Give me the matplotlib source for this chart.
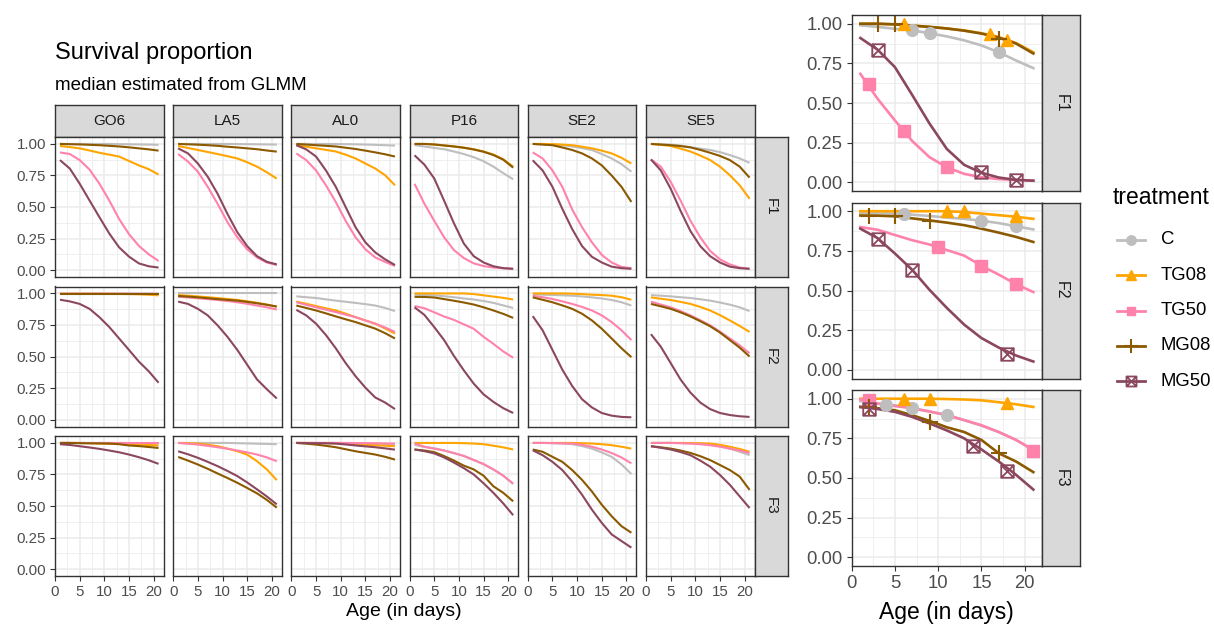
import matplotlib
matplotlib.use("Agg")
import matplotlib.pyplot as plt
from matplotlib.lines import Line2D
from matplotlib.path import Path

plt.rcParams['font.family'] = ['Liberation Sans', 'DejaVu Sans']

# ---- data ----
days = [1, 3, 5, 7, 9, 11, 13, 15, 17, 19, 21]
sites = ["GO6", "LA5", "AL0", "P16", "SE2", "SE5"]
gens = ["F1", "F2", "F3"]
treatments = ["C", "TG08", "TG50", "MG08", "MG50"]

go6_f1 = {
    "C":    [1.0, 1.0, 1.0, 1.0, 1.0, 1.0, 0.998, 0.997, 0.996, 0.995, 0.993],
    "TG08": [0.984, 0.975, 0.965, 0.948, 0.93, 0.915, 0.9, 0.865, 0.83, 0.80, 0.757],
    "TG50": [0.933, 0.92, 0.872, 0.797, 0.685, 0.552, 0.405, 0.285, 0.192, 0.125, 0.072],
    "MG08": [1.0, 0.998, 0.996, 0.993, 0.99, 0.985, 0.98, 0.973, 0.965, 0.957, 0.947],
    "MG50": [0.872, 0.805, 0.685, 0.552, 0.42, 0.29, 0.18, 0.107, 0.053, 0.03, 0.02],
}
go6_f2 = {
    "C":    [0.998, 0.998, 0.998, 0.998, 0.998, 0.998, 0.998, 0.998, 0.998, 0.998, 0.997],
    "TG08": [0.998, 0.998, 0.998, 0.998, 0.998, 0.997, 0.996, 0.995, 0.993, 0.99, 0.985],
    "TG50": [0.998, 0.998, 0.998, 0.998, 0.998, 0.998, 0.998, 0.998, 0.997, 0.997, 0.996],
    "MG08": [0.995, 0.995, 0.995, 0.995, 0.995, 0.995, 0.995, 0.995, 0.995, 0.995, 0.995],
    "MG50": [0.95, 0.937, 0.917, 0.878, 0.812, 0.734, 0.643, 0.552, 0.46, 0.383, 0.292],
}
go6_f3 = {
    "C":    [1.0, 1.0, 1.0, 1.0, 1.0, 1.0, 1.0, 0.999, 0.999, 0.998, 0.998],
    "TG08": [1.0, 1.0, 1.0, 0.998, 0.996, 0.994, 0.992, 0.99, 0.987, 0.984, 0.98],
    "TG50": [1.0, 1.0, 1.0, 1.0, 1.0, 1.0, 1.0, 1.0, 1.0, 1.0, 1.0],
    "MG08": [1.0, 1.0, 0.998, 0.997, 0.996, 0.995, 0.99, 0.98, 0.975, 0.968, 0.96],
    "MG50": [0.99, 0.984, 0.974, 0.964, 0.953, 0.94, 0.926, 0.908, 0.887, 0.863, 0.834],
}
la5_f1 = {
    "C":    [1.0, 1.0, 1.0, 1.0, 1.0, 1.0, 0.999, 0.998, 0.997, 0.996, 0.995],
    "TG08": [0.984, 0.968, 0.952, 0.936, 0.92, 0.903, 0.885, 0.855, 0.82, 0.775, 0.725],
    "TG50": [0.92, 0.86, 0.78, 0.66, 0.525, 0.38, 0.26, 0.165, 0.10, 0.06, 0.04],
    "MG08": [1.0, 0.997, 0.994, 0.99, 0.985, 0.978, 0.972, 0.965, 0.958, 0.948, 0.939],
    "MG50": [0.965, 0.925, 0.845, 0.74, 0.605, 0.445, 0.30, 0.19, 0.11, 0.065, 0.045],
}
la5_f2 = {
    "C":    [1.0, 1.0, 1.0, 1.0, 1.0, 1.0, 1.0, 1.0, 1.0, 1.0, 1.0],
    "TG08": [0.987, 0.982, 0.976, 0.97, 0.963, 0.956, 0.948, 0.938, 0.926, 0.912, 0.895],
    "TG50": [0.974, 0.968, 0.962, 0.955, 0.948, 0.94, 0.93, 0.918, 0.904, 0.89, 0.872],
    "MG08": [0.98, 0.975, 0.969, 0.962, 0.955, 0.949, 0.943, 0.933, 0.922, 0.91, 0.896],
    "MG50": [0.935, 0.917, 0.878, 0.826, 0.747, 0.656, 0.552, 0.435, 0.318, 0.24, 0.167],
}
la5_f3 = {
    "C":    [1.0, 1.0, 1.0, 1.0, 1.0, 1.0, 0.998, 0.996, 0.994, 0.992, 0.99],
    "TG08": [1.0, 0.998, 0.995, 0.986, 0.974, 0.955, 0.934, 0.908, 0.855, 0.79, 0.705],
    "TG50": [1.0, 0.994, 0.987, 0.977, 0.966, 0.954, 0.94, 0.925, 0.908, 0.885, 0.855],
    "MG08": [0.889, 0.86, 0.829, 0.795, 0.758, 0.722, 0.684, 0.643, 0.60, 0.548, 0.487],
    "MG50": [0.934, 0.91, 0.882, 0.85, 0.816, 0.778, 0.737, 0.687, 0.632, 0.575, 0.513],
}
al0_f1 = {
    "C":    [1.0, 1.0, 1.0, 1.0, 0.999, 0.998, 0.997, 0.995, 0.993, 0.99, 0.987],
    "TG08": [0.99, 0.978, 0.965, 0.953, 0.94, 0.915, 0.885, 0.845, 0.805, 0.752, 0.672],
    "TG50": [0.925, 0.872, 0.79, 0.672, 0.54, 0.39, 0.26, 0.165, 0.10, 0.065, 0.032],
    "MG08": [1.0, 0.995, 0.99, 0.985, 0.98, 0.97, 0.96, 0.947, 0.933, 0.918, 0.90],
    "MG50": [0.99, 0.957, 0.90, 0.79, 0.66, 0.50, 0.34, 0.22, 0.14, 0.085, 0.04],
}
al0_f2 = {
    "C":    [0.977, 0.97, 0.964, 0.953, 0.943, 0.934, 0.925, 0.915, 0.904, 0.885, 0.86],
    "TG08": [0.935, 0.918, 0.9, 0.882, 0.865, 0.84, 0.812, 0.786, 0.76, 0.722, 0.682],
    "TG50": [0.93, 0.91, 0.89, 0.871, 0.852, 0.832, 0.812, 0.786, 0.76, 0.73, 0.695],
    "MG08": [0.904, 0.885, 0.865, 0.842, 0.818, 0.795, 0.773, 0.747, 0.721, 0.685, 0.643],
    "MG50": [0.87, 0.826, 0.76, 0.67, 0.565, 0.448, 0.344, 0.253, 0.175, 0.135, 0.083],
}
al0_f3 = {
    "C":    [1.0, 1.0, 1.0, 1.0, 1.0, 0.999, 0.998, 0.997, 0.995, 0.993, 0.99],
    "TG08": [1.0, 1.0, 0.999, 0.998, 0.996, 0.994, 0.99, 0.986, 0.982, 0.978, 0.974],
    "TG50": [1.0, 1.0, 1.0, 1.0, 1.0, 1.0, 0.999, 0.998, 0.997, 0.996, 0.995],
    "MG08": [1.0, 0.994, 0.987, 0.977, 0.966, 0.95, 0.934, 0.921, 0.908, 0.89, 0.868],
    "MG50": [1.0, 0.999, 0.998, 0.997, 0.995, 0.988, 0.98, 0.973, 0.966, 0.957, 0.947],
}
p16_f1 = {
    "C":    [0.99, 0.98, 0.968, 0.958, 0.94, 0.92, 0.895, 0.863, 0.82, 0.768, 0.72],
    "TG08": [1.0, 1.0, 0.995, 0.988, 0.98, 0.97, 0.958, 0.94, 0.916, 0.878, 0.82],
    "TG50": [0.684, 0.526, 0.39, 0.26, 0.158, 0.095, 0.053, 0.032, 0.02, 0.015, 0.01],
    "MG08": [1.0, 1.0, 0.996, 0.988, 0.98, 0.97, 0.956, 0.938, 0.912, 0.875, 0.812],
    "MG50": [0.91, 0.836, 0.726, 0.55, 0.37, 0.21, 0.11, 0.06, 0.03, 0.015, 0.01],
}
p16_f2 = {
    "C":    [0.99, 0.988, 0.985, 0.978, 0.97, 0.96, 0.952, 0.94, 0.925, 0.905, 0.885],
    "TG08": [1.0, 1.0, 1.0, 1.0, 1.0, 1.0, 0.995, 0.985, 0.975, 0.965, 0.952],
    "TG50": [0.90, 0.883, 0.85, 0.817, 0.79, 0.755, 0.72, 0.656, 0.6, 0.54, 0.49],
    "MG08": [0.973, 0.972, 0.968, 0.955, 0.942, 0.928, 0.912, 0.89, 0.865, 0.838, 0.806],
    "MG50": [0.89, 0.83, 0.733, 0.63, 0.504, 0.39, 0.285, 0.2, 0.14, 0.09, 0.052],
}
p16_f3 = {
    "C":    [0.985, 0.968, 0.958, 0.94, 0.918, 0.898, 0.865, 0.83, 0.79, 0.74, 0.675],
    "TG08": [1.0, 1.0, 1.0, 1.0, 1.0, 0.998, 0.995, 0.99, 0.978, 0.965, 0.948],
    "TG50": [0.996, 0.97, 0.954, 0.94, 0.92, 0.896, 0.865, 0.833, 0.79, 0.74, 0.677],
    "MG08": [0.948, 0.94, 0.927, 0.896, 0.86, 0.82, 0.79, 0.74, 0.656, 0.604, 0.537],
    "MG50": [0.948, 0.935, 0.917, 0.885, 0.844, 0.80, 0.75, 0.68, 0.604, 0.52, 0.427],
}
se2_f1 = {
    "C":    [1.0, 0.998, 0.995, 0.99, 0.98, 0.967, 0.952, 0.92, 0.885, 0.84, 0.78],
    "TG08": [1.0, 1.0, 0.998, 0.995, 0.99, 0.978, 0.965, 0.947, 0.925, 0.89, 0.845],
    "TG50": [0.933, 0.885, 0.79, 0.66, 0.48, 0.34, 0.22, 0.12, 0.06, 0.025, 0.015],
    "MG08": [1.0, 0.995, 0.99, 0.972, 0.952, 0.925, 0.885, 0.83, 0.75, 0.66, 0.54],
    "MG50": [0.87, 0.79, 0.66, 0.485, 0.325, 0.19, 0.105, 0.06, 0.027, 0.015, 0.01],
}
se2_f2 = {
    "C":    [0.995, 0.99, 0.988, 0.985, 0.982, 0.976, 0.969, 0.96, 0.948, 0.93, 0.904],
    "TG08": [1.0, 1.0, 1.0, 1.0, 0.998, 0.995, 0.99, 0.987, 0.982, 0.97, 0.95],
    "TG50": [0.982, 0.97, 0.956, 0.937, 0.917, 0.893, 0.865, 0.826, 0.773, 0.708, 0.63],
    "MG08": [0.969, 0.95, 0.93, 0.905, 0.878, 0.839, 0.786, 0.72, 0.643, 0.565, 0.495],
    "MG50": [0.82, 0.708, 0.552, 0.396, 0.266, 0.161, 0.096, 0.052, 0.031, 0.021, 0.018],
}
se2_f3 = {
    "C":    [1.0, 1.0, 0.998, 0.995, 0.99, 0.975, 0.955, 0.925, 0.89, 0.83, 0.754],
    "TG08": [1.0, 1.0, 1.0, 1.0, 1.0, 0.998, 0.995, 0.99, 0.982, 0.97, 0.955],
    "TG50": [1.0, 1.0, 0.999, 0.997, 0.995, 0.985, 0.97, 0.948, 0.92, 0.885, 0.838],
    "MG08": [0.948, 0.93, 0.89, 0.85, 0.785, 0.707, 0.615, 0.51, 0.419, 0.34, 0.288],
    "MG50": [0.942, 0.903, 0.85, 0.785, 0.694, 0.589, 0.471, 0.366, 0.275, 0.222, 0.17],
}
se5_f1 = {
    "C":    [1.0, 0.998, 0.995, 0.987, 0.973, 0.963, 0.952, 0.935, 0.912, 0.885, 0.85],
    "TG08": [1.0, 0.993, 0.984, 0.963, 0.94, 0.908, 0.872, 0.82, 0.752, 0.672, 0.565],
    "TG50": [0.877, 0.82, 0.70, 0.552, 0.392, 0.26, 0.152, 0.085, 0.045, 0.02, 0.01],
    "MG08": [1.0, 0.995, 0.99, 0.983, 0.973, 0.953, 0.93, 0.905, 0.872, 0.82, 0.733],
    "MG50": [0.877, 0.79, 0.645, 0.47, 0.31, 0.19, 0.11, 0.06, 0.027, 0.015, 0.01],
}
se5_f2 = {
    "C":    [0.987, 0.982, 0.977, 0.97, 0.964, 0.954, 0.943, 0.928, 0.911, 0.89, 0.86],
    "TG08": [0.969, 0.958, 0.948, 0.933, 0.917, 0.893, 0.865, 0.828, 0.786, 0.742, 0.695],
    "TG50": [0.935, 0.912, 0.89, 0.86, 0.826, 0.788, 0.747, 0.697, 0.643, 0.588, 0.526],
    "MG08": [0.917, 0.898, 0.878, 0.85, 0.818, 0.78, 0.74, 0.69, 0.63, 0.57, 0.50],
    "MG50": [0.677, 0.578, 0.448, 0.318, 0.214, 0.135, 0.083, 0.052, 0.036, 0.026, 0.021],
}
se5_f3 = {
    "C":    [1.0, 1.0, 1.0, 0.999, 0.997, 0.995, 0.99, 0.975, 0.955, 0.93, 0.903],
    "TG08": [1.0, 1.0, 1.0, 1.0, 0.999, 0.997, 0.995, 0.985, 0.97, 0.952, 0.93],
    "TG50": [1.0, 1.0, 1.0, 0.998, 0.995, 0.99, 0.982, 0.97, 0.955, 0.94, 0.92],
    "MG08": [0.974, 0.965, 0.955, 0.94, 0.921, 0.895, 0.864, 0.825, 0.785, 0.733, 0.628],
    "MG50": [0.974, 0.962, 0.948, 0.928, 0.903, 0.86, 0.812, 0.746, 0.668, 0.576, 0.484],
}

# point markers shown on the P16 close-up: (days, survival)
p16_f1_marks = {
    "C": ([7, 9, 17], [0.958, 0.94, 0.82]),
    "TG08": ([6, 16, 18], [1.0, 0.937, 0.90]),
    "TG50": ([2, 6, 11], [0.617, 0.322, 0.095]),
    "MG08": ([3, 5, 17], [1.0, 1.0, 0.905]),
    "MG50": ([3, 15, 19], [0.836, 0.063, 0.015]),
}
p16_f2_marks = {
    "C": ([6, 15, 19], [0.98, 0.94, 0.905]),
    "TG08": ([11, 13, 19], [1.0, 1.0, 0.97]),
    "TG50": ([10, 15, 19], [0.775, 0.656, 0.54]),
    "MG08": ([2, 5, 9], [0.973, 0.97, 0.94]),
    "MG50": ([3, 7, 18], [0.827, 0.63, 0.098]),
}
p16_f3_marks = {
    "C": ([4, 7, 11], [0.963, 0.94, 0.90]),
    "TG08": ([6, 9, 18], [1.0, 1.0, 0.975]),
    "TG50": ([2, 21], [0.99, 0.673]),
    "MG08": ([2, 9, 17], [0.95, 0.854, 0.656]),
    "MG50": ([2, 14, 18], [0.933, 0.70, 0.546]),
}

survival = {
    ("GO6", "F1"): go6_f1, ("GO6", "F2"): go6_f2, ("GO6", "F3"): go6_f3,
    ("LA5", "F1"): la5_f1, ("LA5", "F2"): la5_f2, ("LA5", "F3"): la5_f3,
    ("AL0", "F1"): al0_f1, ("AL0", "F2"): al0_f2, ("AL0", "F3"): al0_f3,
    ("P16", "F1"): p16_f1, ("P16", "F2"): p16_f2, ("P16", "F3"): p16_f3,
    ("SE2", "F1"): se2_f1, ("SE2", "F2"): se2_f2, ("SE2", "F3"): se2_f3,
    ("SE5", "F1"): se5_f1, ("SE5", "F2"): se5_f2, ("SE5", "F3"): se5_f3,
}
p16_marks = {"F1": p16_f1_marks, "F2": p16_f2_marks, "F3": p16_f3_marks}

# ---- styling ----
colors = {"C": "#BEBEBE", "TG08": "#FFA500", "TG50": "#FF82AB",
          "MG08": "#8B5A00", "MG50": "#8B475D"}
sq_cross = Path([(-1, -1), (1, -1), (1, 1), (-1, 1), (-1, -1),
                 (-1, -1), (1, 1), (-1, 1), (1, -1)],
                [Path.MOVETO, Path.LINETO, Path.LINETO, Path.LINETO, Path.CLOSEPOLY,
                 Path.MOVETO, Path.LINETO, Path.MOVETO, Path.LINETO])
marker_style = {
    "C": dict(marker="o", ms=8.5, mfc=colors["C"], mec=colors["C"]),
    "TG08": dict(marker="^", ms=9, mfc=colors["TG08"], mec=colors["TG08"]),
    "TG50": dict(marker="s", ms=8, mfc=colors["TG50"], mec=colors["TG50"]),
    "MG08": dict(marker="+", ms=12, mec=colors["MG08"], mew=1.5),
    "MG50": dict(marker=sq_cross, ms=9, mfc="none", mec=colors["MG50"], mew=1.3),
}

W, H = 1214, 626
fig = plt.figure(figsize=(W / 100, H / 100), dpi=100)


def rect(x0, y0, w, h):
    return [x0 / W, 1 - (y0 + h) / H, w / W, h / H]


def style_panel(ax, show_x, show_y, tick_size):
    ax.set_xlim(0, 22)
    ax.set_ylim(-0.055, 1.055)
    ax.set_xticks([0, 5, 10, 15, 20])
    ax.set_xticks([2.5, 7.5, 12.5, 17.5], minor=True)
    ax.set_yticks([0, 0.25, 0.5, 0.75, 1.0])
    ax.set_yticks([0.125, 0.375, 0.625, 0.875], minor=True)
    ax.set_yticklabels(["0.00", "0.25", "0.50", "0.75", "1.00"])
    ax.grid(which="major", color="#EBEBEB", linewidth=1.1)
    ax.grid(which="minor", color="#EBEBEB", linewidth=0.55)
    ax.set_axisbelow(True)
    for s in ax.spines.values():
        s.set_color("#333333")
        s.set_linewidth(1.0)
    ax.tick_params(which="minor", length=0)
    ax.tick_params(which="major", length=3.5, width=0.8, color="#333333",
                   labelcolor="#4D4D4D", labelsize=tick_size, pad=3)
    ax.tick_params(bottom=show_x, labelbottom=show_x, left=show_y, labelleft=show_y)


def strip(x0, y0, w, h, label, rot, size):
    sa = fig.add_axes(rect(x0, y0, w, h))
    sa.set_facecolor("#D9D9D9")
    sa.set_xticks([])
    sa.set_yticks([])
    for s in sa.spines.values():
        s.set_color("#333333")
        s.set_linewidth(1.0)
    sa.text(0.5, 0.5, label, transform=sa.transAxes, ha="center", va="center",
            rotation=rot, fontsize=size, color="#1A1A1A")


# ---- left facet grid ----
col_x = [55, 173.2, 291.4, 409.6, 527.8, 646]
row_y = [137, 286.5, 436]
pw, ph = 108.5, 140

for j, site in enumerate(sites):
    strip(col_x[j], 105, pw, 32, site, 0, 11)
    for i, gen in enumerate(gens):
        ax = fig.add_axes(rect(col_x[j], row_y[i], pw, ph))
        style_panel(ax, i == 2, j == 0, 10.8)
        data = survival[(site, gen)]
        for t in treatments:
            ax.plot(days, data[t], color=colors[t], lw=1.5, solid_capstyle="butt")
for i, gen in enumerate(gens):
    strip(col_x[-1] + pw, row_y[i], 33, ph, gen, 270, 11)

fig.text(55 / W, 1 - 53 / H, "Survival proportion", fontsize=17, va="center", color="black")
fig.text(55 / W, 1 - 85 / H, "median estimated from GLMM", fontsize=13.5, va="center", color="black")
fig.text(404 / W, 1 - 612 / H, "Age (in days)", fontsize=14, ha="center", va="center")

# ---- right: P16 close-up with markers ----
rx, rw, rh = 851.7, 190.3, 176
ry = [15, 202.5, 390]
for i, gen in enumerate(gens):
    ax = fig.add_axes(rect(rx, ry[i], rw, rh))
    style_panel(ax, i == 2, True, 13.3)
    data = survival[("P16", gen)]
    for t in treatments:
        ax.plot(days, data[t], color=colors[t], lw=1.9)
    for t in treatments:
        mx, my = p16_marks[gen][t]
        ax.plot(mx, my, ls="none", **marker_style[t])
    strip(rx + rw, ry[i], 38, rh, gen, 270, 11.5)

fig.text(946 / W, 1 - 612 / H, "Age (in days)", fontsize=16.5, ha="center", va="center")

# ---- legend ----
fig.text(1113 / W, 1 - 197 / H, "treatment", fontsize=16.5, va="center")
for k, t in enumerate(treatments):
    yy = 1 - (240 + 35.3 * k) / H
    st = dict(marker_style[t])
    st["ms"] = st["ms"] * 0.8
    fig.add_artist(Line2D([1117 / W, 1131 / W, 1145 / W], [yy, yy, yy],
                          transform=fig.transFigure, color=colors[t], lw=2,
                          markevery=[1], **st))
    fig.text(1161 / W, yy, t, fontsize=13.3, va="center")

fig.savefig("out.png", dpi=100)
